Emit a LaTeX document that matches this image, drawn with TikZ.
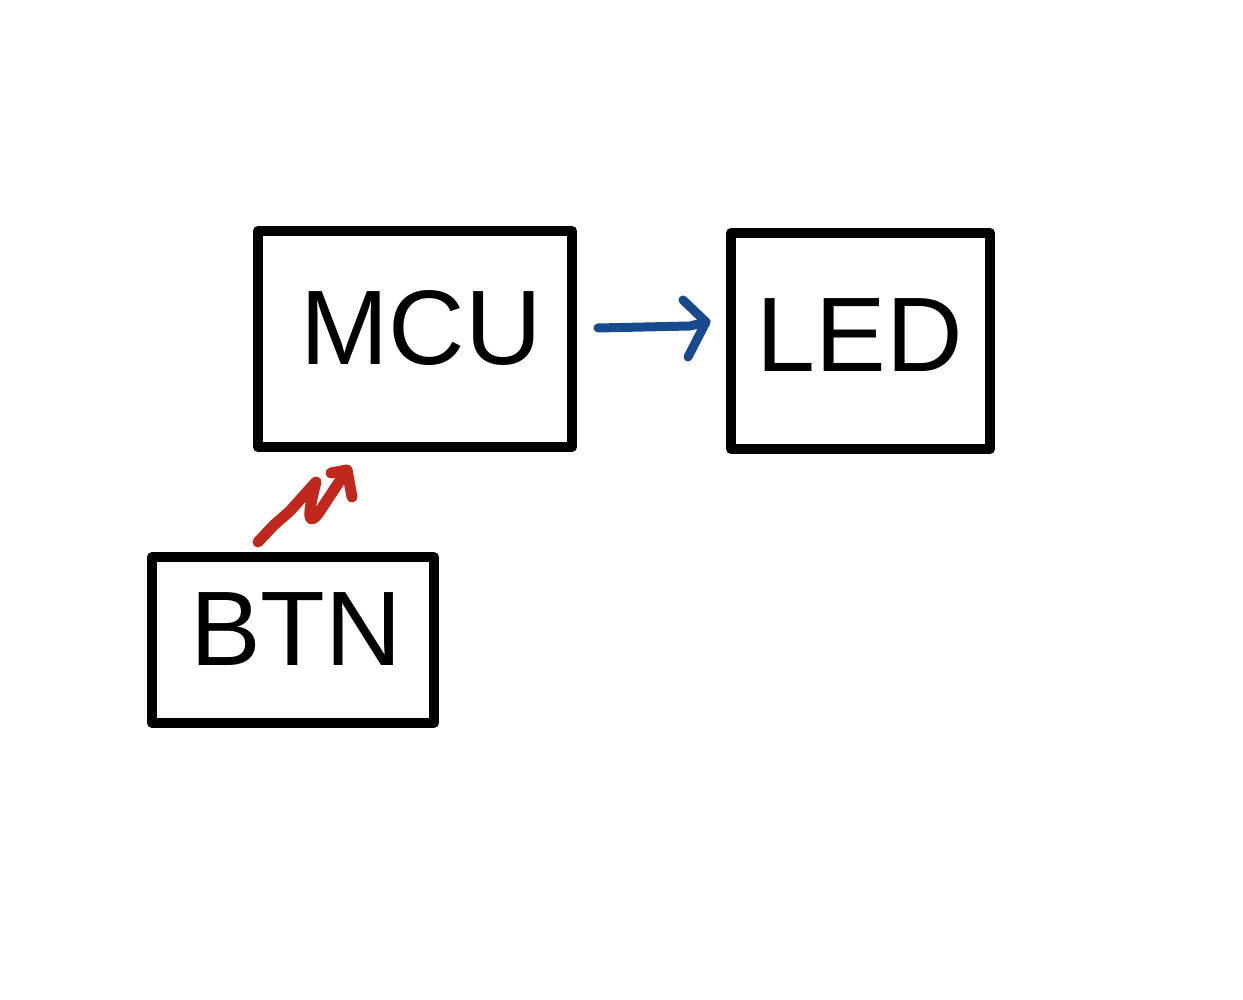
\documentclass[tikz,border=0pt]{standalone}
\usepackage{fontspec}
\setmainfont{Liberation Sans}
\definecolor{zred}{RGB}{192,40,30}
\definecolor{zblue}{RGB}{26,74,142}
\begin{document}
\begin{tikzpicture}[x=1pt,y=-1pt,
  box/.style={draw=black, line width=10pt, line join=round, rectangle, inner sep=0pt},
  lbl/.style={inner sep=0pt, font=\fontsize{106}{106}\selectfont},
  stroke/.style={line width=10pt, line cap=round, line join=round}]
\useasboundingbox (0,0) rectangle (1243,1000);
\fill[white] (0,0) rectangle (1243,1000);
\node[box, minimum width=314pt, minimum height=216pt] (mcu) at (415,339) {};
\node[box, minimum width=259pt, minimum height=216pt] (led) at (860.5,341) {};
\node[box, minimum width=282pt, minimum height=166pt] (btn) at (293,640) {};
\node[lbl] (mcut) at (421,328) {MCU};
\node[lbl] (ledt) at (860,335) {LED};
\node[lbl] (btnt) at (296,629) {BTN};
% red zigzag arrow BTN -> MCU
\coordinate (rs) at (258,542);
\coordinate (rt) at (347,470);
\draw[stroke, zred, line width=11pt] (rs) -- (274,525) -- (290,511) -- (316,482)
  .. controls (310,505) and (305,530) .. (318,514) -- (rt);
\draw[stroke, zred, line width=11pt] (331,473) -- (rt) -- (352,497);
% blue arrow MCU -> LED
\coordinate (bs) at (598,328);
\coordinate (bt) at (706,322);
\draw[stroke, zblue, line width=9pt] (bs) -- (690,326) -- (bt);
\draw[stroke, zblue, line width=9pt] (683,300) -- (bt) -- (688,357);
\end{tikzpicture}
\end{document}
